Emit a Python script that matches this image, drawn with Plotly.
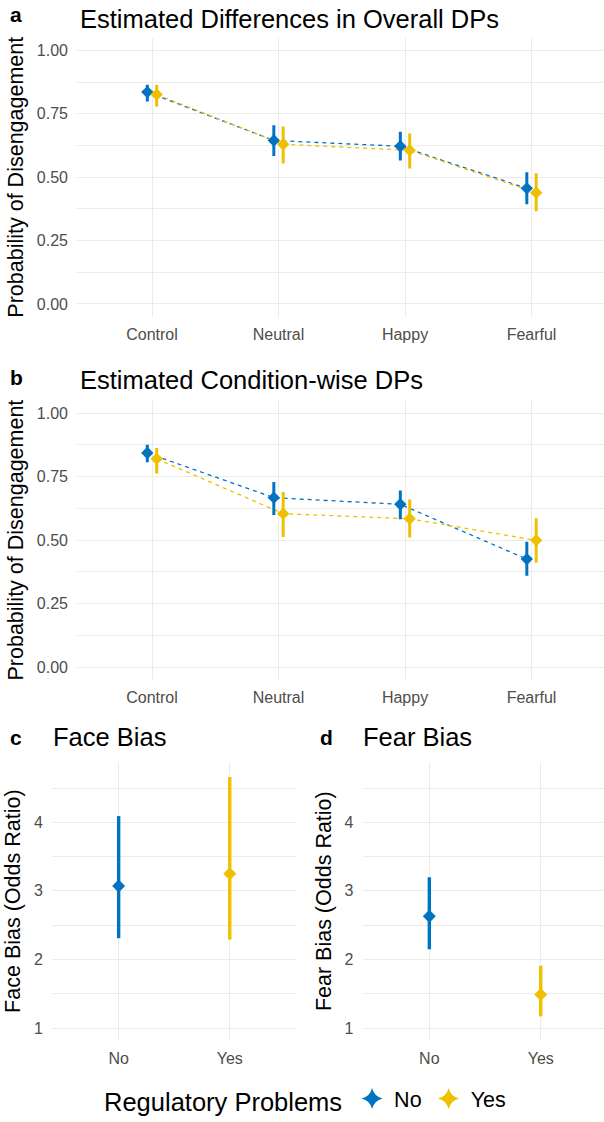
import plotly.graph_objects as go

# ---------------- data ----------------
conditions = ["Control", "Neutral", "Happy", "Fearful"]
groups = ["No", "Yes"]

# Panel a: Estimated Differences in Overall DPs
a_no_est = [0.836, 0.645, 0.622, 0.456]
a_no_lo = [0.799, 0.584, 0.566, 0.393]
a_no_hi = [0.865, 0.705, 0.679, 0.520]
a_yes_est = [0.826, 0.630, 0.606, 0.439]
a_yes_lo = [0.779, 0.554, 0.534, 0.366]
a_yes_hi = [0.865, 0.700, 0.672, 0.516]

# Panel b: Estimated Condition-wise DPs
b_no_est = [0.843, 0.667, 0.641, 0.425]
b_no_lo = [0.807, 0.599, 0.582, 0.360]
b_no_hi = [0.876, 0.729, 0.695, 0.493]
b_yes_est = [0.820, 0.604, 0.584, 0.499]
b_yes_lo = [0.762, 0.512, 0.510, 0.412]
b_yes_hi = [0.863, 0.689, 0.660, 0.586]

# Panel c: Face Bias (odds ratio)
face_est = [3.07, 3.25]
face_lo = [2.31, 2.29]
face_hi = [4.09, 4.66]

# Panel d: Fear Bias (odds ratio)
fear_est = [2.63, 1.49]
fear_lo = [2.15, 1.17]
fear_hi = [3.20, 1.91]

# ---------------- style ----------------
W, H = 604, 1122
BLUE = "#0073C2"
YELLOW = "#EFC000"
GRID = "#EBEBEB"
TICK = "#4D4D4D"
FONT = "Liberation Sans, Arial, sans-serif"
DODGE = 0.037


def px_x(p):
    return p / W


def px_y(p):
    return 1 - p / H


fig = go.Figure()


def add_panel(xa, ya, est_no, lo_no, hi_no, est_yes, lo_yes, hi_yes):
    idx = list(range(1, len(conditions) + 1))
    x_no = [i - DODGE for i in idx]
    x_yes = [i + DODGE for i in idx]
    for xs, est, col in ((x_no, est_no, BLUE), (x_yes, est_yes, YELLOW)):
        fig.add_trace(go.Scatter(
            x=xs, y=est, mode="lines", xaxis=xa, yaxis=ya,
            line=dict(color=col, width=1.3, dash="4px,4px"),
            showlegend=False, hoverinfo="skip"))
    for xs, est, lo, hi, col in ((x_no, est_no, lo_no, hi_no, BLUE),
                                 (x_yes, est_yes, lo_yes, hi_yes, YELLOW)):
        fig.add_trace(go.Scatter(
            x=xs, y=est, mode="markers", xaxis=xa, yaxis=ya,
            marker=dict(symbol="diamond", size=9.5, color=col),
            error_y=dict(type="data", symmetric=False,
                         array=[h - e for h, e in zip(hi, est)],
                         arrayminus=[e - l for e, l in zip(est, lo)],
                         color=col, thickness=3, width=0),
            showlegend=False))


add_panel("x", "y", a_no_est, a_no_lo, a_no_hi, a_yes_est, a_yes_lo, a_yes_hi)
add_panel("x2", "y2", b_no_est, b_no_lo, b_no_hi, b_yes_est, b_yes_lo, b_yes_hi)

# panels c and d
for xa, ya, est, lo, hi in (("x3", "y3", face_est, face_lo, face_hi),
                            ("x4", "y4", fear_est, fear_lo, fear_hi)):
    for k, (g, col) in enumerate(zip(groups, (BLUE, YELLOW))):
        fig.add_trace(go.Scatter(
            x=[k + 1], y=[est[k]], mode="markers", xaxis=xa, yaxis=ya,
            marker=dict(symbol="diamond", size=10, color=col),
            error_y=dict(type="data", symmetric=False,
                         array=[hi[k] - est[k]], arrayminus=[est[k] - lo[k]],
                         color=col, thickness=3.4, width=0),
            showlegend=False))

# legend entries
for g, col in zip(groups, (BLUE, YELLOW)):
    fig.add_trace(go.Scatter(
        x=[None], y=[None], mode="markers", xaxis="x3", yaxis="y3",
        marker=dict(symbol="star-diamond", size=15, color=col),
        name=g, showlegend=True))

common_x = dict(showgrid=True, gridcolor=GRID, gridwidth=1.4, zeroline=False,
                showline=False, ticks="", tickfont=dict(size=16, color=TICK, family=FONT),
                ticklabelstandoff=6, fixedrange=True)
common_y = dict(showgrid=True, gridcolor=GRID, gridwidth=1.4, zeroline=False,
                showline=False, ticks="", tickfont=dict(size=16, color=TICK, family=FONT),
                ticklabelstandoff=8, fixedrange=True)

ab_y_ticks = [0, 0.25, 0.5, 0.75, 1.0]
ab_y_minor = [0.125, 0.375, 0.625, 0.875]
cd_y_ticks = [1, 2, 3, 4]
cd_y_minor = [1.5, 2.5, 3.5, 4.5]

fig.update_layout(
    width=W, height=H, margin=dict(l=0, r=0, t=0, b=0),
    paper_bgcolor="white", plot_bgcolor="white",
    font=dict(family=FONT, color="black"),
    xaxis=dict(common_x, domain=[px_x(77), 1], range=[0.407, 4.573], anchor="y",
               tickvals=[1, 2, 3, 4], ticktext=conditions),
    yaxis=dict(common_y, domain=[px_y(318), px_y(38)], range=[-0.05, 1.05], anchor="x",
               tickvals=ab_y_ticks, ticktext=["%.2f" % v for v in ab_y_ticks],
               minor=dict(showgrid=True, gridcolor=GRID, gridwidth=0.8, tickvals=ab_y_minor),
               title=dict(text="Probability of Disengagement", font=dict(size=21.5, color="black"), standoff=7)),
    xaxis2=dict(common_x, domain=[px_x(77), 1], range=[0.407, 4.573], anchor="y2",
                tickvals=[1, 2, 3, 4], ticktext=conditions),
    yaxis2=dict(common_y, domain=[px_y(682.75), px_y(402.25)], range=[-0.05, 1.05], anchor="x2",
                tickvals=ab_y_ticks, ticktext=["%.2f" % v for v in ab_y_ticks],
                minor=dict(showgrid=True, gridcolor=GRID, gridwidth=0.8, tickvals=ab_y_minor),
                title=dict(text="Probability of Disengagement", font=dict(size=21.5, color="black"), standoff=7)),
    xaxis3=dict(common_x, domain=[px_x(52), px_x(296.4)], range=[0.4, 2.6], anchor="y3",
                tickvals=[1, 2], ticktext=groups),
    yaxis3=dict(common_y, domain=[px_y(1045.4), px_y(765)], range=[0.815, 4.885], anchor="x3",
                tickvals=cd_y_ticks, ticktext=[str(v) for v in cd_y_ticks],
                minor=dict(showgrid=True, gridcolor=GRID, gridwidth=0.8, tickvals=cd_y_minor),
                title=dict(text="Face Bias (Odds Ratio)", font=dict(size=21.5, color="black"), standoff=7)),
    xaxis4=dict(common_x, domain=[px_x(362.5), 1], range=[0.4, 2.568], anchor="y4",
                tickvals=[1, 2], ticktext=groups),
    yaxis4=dict(common_y, domain=[px_y(1045.4), px_y(765)], range=[0.815, 4.885], anchor="x4",
                tickvals=cd_y_ticks, ticktext=[str(v) for v in cd_y_ticks],
                minor=dict(showgrid=True, gridcolor=GRID, gridwidth=0.8, tickvals=cd_y_minor),
                title=dict(text="Fear Bias (Odds Ratio)", font=dict(size=21.5, color="black"), standoff=7)),
    legend=dict(orientation="h", x=px_x(102), xanchor="left", y=px_y(1105), yanchor="middle",
                title=dict(text="Regulatory Problems", side="left", font=dict(size=25.5, color="black")),
                font=dict(size=21.5, color="black"), bgcolor="rgba(0,0,0,0)",
                itemwidth=34, tracegroupgap=0),
    showlegend=True,
)

# panel titles and tags
titles = [
    ("a", 8, 15, "Estimated Differences in Overall DPs", 78, 19.5),
    ("b", 8, 379, "Estimated Condition-wise DPs", 78, 381.5),
    ("c", 8, 741, "Face Bias", 51, 740.5),
    ("d", 318, 741, "Fear Bias", 361, 740.5),
]
for tag, tx, ty, title, x0, y0 in titles:
    fig.add_annotation(text="<b>%s</b>" % tag, x=px_x(tx), y=px_y(ty), xref="paper", yref="paper",
                       xanchor="left", yanchor="middle", showarrow=False,
                       font=dict(size=21, color="black", family=FONT))
    fig.add_annotation(text=title, x=px_x(x0), y=px_y(y0), xref="paper", yref="paper",
                       xanchor="left", yanchor="middle", showarrow=False,
                       font=dict(size=25.5, color="black", family=FONT))

fig.write_html("out.html",
               config={"displayModeBar": False},
               post_script="document.body.style.margin='0';document.body.style.overflow='hidden';")
